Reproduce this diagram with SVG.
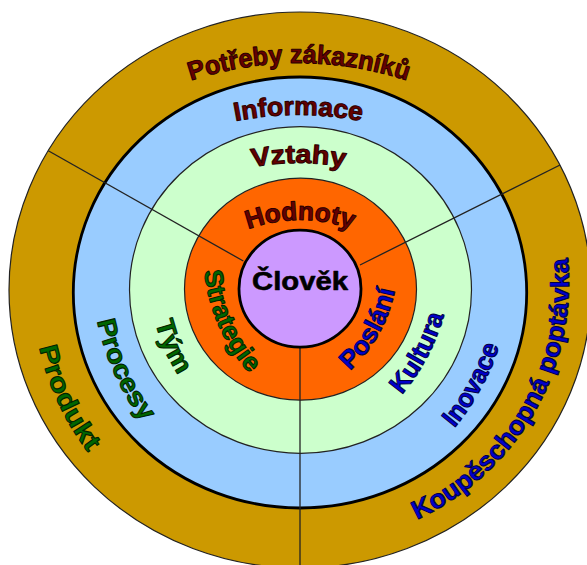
<svg xmlns="http://www.w3.org/2000/svg" xmlns:xlink="http://www.w3.org/1999/xlink" width="587" height="565" viewBox="0 0 587 565">
  <style>
    .lbl { font-family: "Liberation Sans", Arial, sans-serif; font-weight: bold; font-size: 26px; stroke-width: 1; stroke-linejoin: round; }
    .red { fill: #660000; stroke: #2a0000; }
    .grn { fill: #006600; stroke: #002200; }
    .blu { fill: #0000cc; stroke: #000044; }
    .blk { fill: #000000; stroke: #000000; stroke-width: 0.6; }
    .thin { stroke: #222222; stroke-width: 1.2; }
    .thick { stroke: #000000; stroke-width: 2.8; }
    .div { stroke: #222222; stroke-width: 1.3; fill: none; }
  </style>
  <defs>
    <!-- baselines for the curved labels -->
    <path id="p-potreby" d="M 129 108.6 A 340 340 0 0 1 469 108.6"/>
    <path id="p-informace" d="M 174.9 139 A 330 330 0 0 1 422.1 139"/>
    <path id="p-vztahy" d="M 201.1 181.9 A 260 260 0 0 1 395.9 181.9"/>
    <path id="p-hodnoty" d="M 220.5 242.8 A 150 150 0 0 1 379.5 242.8"/>
    <path id="p-produkt" d="M 33 289.5 A 267 267 0 0 0 128.2 494.3"/>
    <path id="p-procesy" d="M 92.3 269 A 248 248 0 0 0 179 459.9"/>
    <path id="p-tym" d="M 151.3 290.9 A 158 158 0 0 0 199 399.3"/>
    <path id="p-strategie" d="M 205.1 227 A 181 181 0 0 0 282.6 402.5"/>
    <path id="p-poslani" d="M 320.9 391.6 A 148 148 0 0 0 397.5 254.7"/>
    <path id="p-kultura" d="M 368.8 425.9 A 208 208 0 0 0 451 270.5"/>
    <path id="p-inovace" d="M 413.2 467.4 A 248 248 0 0 0 510.4 290.7"/>
    <path id="p-poptavka" d="M 354.2 539.1 A 260 260 0 0 0 553.3 194.1"/>
  </defs>

  <!-- concentric rings, outermost first -->
  <g id="ring-customer">
    <ellipse cx="300" cy="290" rx="291" ry="278" fill="#cc9900" class="thin"/>
  </g>
  <g id="ring-information">
    <ellipse cx="300" cy="292.5" rx="226.7" ry="215.5" fill="#99ccff" class="thick"/>
  </g>
  <g id="ring-relations">
    <ellipse cx="300.5" cy="290" rx="171" ry="163.3" fill="#ccffcc" class="thin"/>
  </g>
  <g id="ring-values">
    <ellipse cx="300.5" cy="289.2" rx="116" ry="111" fill="#ff6600" class="thin"/>
  </g>

  <!-- sector dividers -->
  <g id="dividers" class="div">
    <line x1="300" y1="347" x2="300" y2="565"/>
    <line x1="48.3" y1="150.7" x2="243.3" y2="261"/>
    <line x1="360" y1="265" x2="560" y2="165"/>
  </g>

  <g id="core">
    <ellipse cx="300" cy="288.7" rx="61" ry="58.5" fill="#cc99ff" class="thick"/>
    <text class="lbl blk" x="300" y="290" text-anchor="middle" textLength="96" lengthAdjust="spacingAndGlyphs">Člověk</text>
  </g>

  <g id="label-potreby">
    <text class="lbl red"><textPath xlink:href="#p-potreby" href="#p-potreby" startOffset="50%" text-anchor="middle" textLength="220" lengthAdjust="spacingAndGlyphs">Potřeby zákazníků</textPath></text>
  </g>
  <g id="label-informace">
    <text class="lbl red"><textPath xlink:href="#p-informace" href="#p-informace" startOffset="50%" text-anchor="middle" textLength="127" lengthAdjust="spacingAndGlyphs">Informace</textPath></text>
  </g>
  <g id="label-vztahy">
    <text class="lbl red"><textPath xlink:href="#p-vztahy" href="#p-vztahy" startOffset="50%" text-anchor="middle" textLength="93" lengthAdjust="spacingAndGlyphs">Vztahy</textPath></text>
  </g>
  <g id="label-hodnoty">
    <text class="lbl red"><textPath xlink:href="#p-hodnoty" href="#p-hodnoty" startOffset="50%" text-anchor="middle" textLength="106" lengthAdjust="spacingAndGlyphs">Hodnoty</textPath></text>
  </g>

  <g id="label-produkt">
    <text class="lbl grn"><textPath xlink:href="#p-produkt" href="#p-produkt" startOffset="50%" text-anchor="middle" textLength="117" lengthAdjust="spacingAndGlyphs">Produkt</textPath></text>
  </g>
  <g id="label-procesy">
    <text class="lbl grn"><textPath xlink:href="#p-procesy" href="#p-procesy" startOffset="50%" text-anchor="middle" textLength="112" lengthAdjust="spacingAndGlyphs">Procesy</textPath></text>
  </g>
  <g id="label-tym">
    <text class="lbl grn"><textPath xlink:href="#p-tym" href="#p-tym" startOffset="50%" text-anchor="middle" textLength="58" lengthAdjust="spacingAndGlyphs">Tým</textPath></text>
  </g>
  <g id="label-strategie">
    <text class="lbl grn"><textPath xlink:href="#p-strategie" href="#p-strategie" startOffset="50%" text-anchor="middle" textLength="114" lengthAdjust="spacingAndGlyphs">Strategie</textPath></text>
  </g>

  <g id="label-poslani">
    <text class="lbl blu"><textPath xlink:href="#p-poslani" href="#p-poslani" startOffset="50%" text-anchor="middle" textLength="94" lengthAdjust="spacingAndGlyphs">Poslání</textPath></text>
  </g>
  <g id="label-kultura">
    <text class="lbl blu"><textPath xlink:href="#p-kultura" href="#p-kultura" startOffset="50%" text-anchor="middle" textLength="91" lengthAdjust="spacingAndGlyphs">Kultura</textPath></text>
  </g>
  <g id="label-inovace">
    <text class="lbl blu"><textPath xlink:href="#p-inovace" href="#p-inovace" startOffset="50%" text-anchor="middle" textLength="94" lengthAdjust="spacingAndGlyphs">Inovace</textPath></text>
  </g>
  <g id="label-poptavka">
    <text class="lbl blu"><textPath xlink:href="#p-poptavka" href="#p-poptavka" startOffset="50%" text-anchor="middle" textLength="322" lengthAdjust="spacingAndGlyphs">Koupěschopná poptávka</textPath></text>
  </g>
</svg>
